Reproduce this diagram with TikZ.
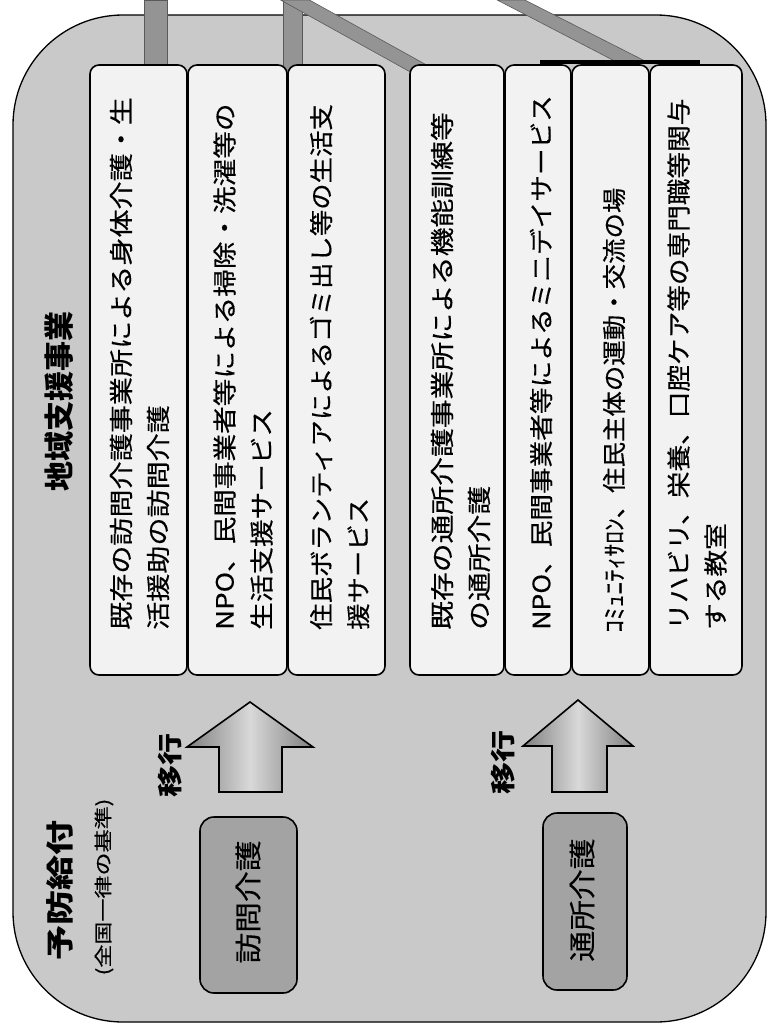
\documentclass[tikz,border=0pt]{standalone}
\usepackage{fontspec}
\usepackage{graphicx}
\newfontfamily\jp[FakeBold=0.35]{Noto Sans CJK JP}
\newfontfamily\jpb{Noto Sans CJK JP}
\newcommand\sx[2]{\scalebox{#1}[1]{#2}}
\begin{document}
\begin{tikzpicture}[x=1pt,y=-1pt,
  outerbox/.style={draw=black, line width=1.3pt, fill=black!21, rounded corners=110pt, inner sep=0},
  ibox/.style={draw=black, line width=1.6pt, fill=black!5, rounded corners=9pt, inner sep=0},
  sbox/.style={draw=black, line width=1.6pt, fill=black!36, rounded corners=14pt, inner sep=0},
  btxt/.style={rotate=90, anchor=west, align=left, inner sep=0, font=\jp\fontsize{24}{37}\selectfont},
  rtxt/.style={rotate=90, inner sep=0},
  band/.style={fill=black!42, draw=black!65, line width=0.6pt},
  bigarrow/.style={draw=black, line width=1.6pt, left color=black!50, right color=black!50, middle color=black!15},
]
\useasboundingbox (0,0) rectangle (769,1028);

% outer frame
\node[outerbox, minimum width=753pt, minimum height=1007pt] (outer) at (389.5,518.5) {};

% connector bands coming from above
\fill[band] (144,0) rectangle (167,72);
\fill[band] (283,0) rectangle (302,72);
\filldraw[band] (280.6,0) -- (309.4,0) -- (430,66.9) -- (430,82.9) -- cycle;
\filldraw[band] (497.2,0) -- (524.8,0) -- (645,61) -- (630,69) -- cycle;

% inner boxes
\node[ibox, minimum width=97pt, minimum height=610pt] (b1) at (138.5,370) {};
\node[ibox, minimum width=99pt, minimum height=610pt] (b2) at (237.5,370) {};
\node[ibox, minimum width=97pt, minimum height=610pt] (b3) at (336.5,370) {};
\node[ibox, minimum width=94pt, minimum height=610pt] (b4) at (457,370) {};
\node[ibox, minimum width=66pt, minimum height=610pt] (b5) at (538,370) {};
\node[ibox, minimum width=77pt, minimum height=610pt] (b6) at (610.5,370) {};
\node[ibox, minimum width=92pt, minimum height=610pt] (b7) at (696,370) {};

% bracket bar over boxes 5-7
\coordinate (barL) at (540,62);
\coordinate (barR) at (700,62);
\draw[line width=4pt] (barL) -- (barR);

% box texts
\node[btxt] (t1) at (139.5,630) {\sx{1.17}{既存の訪問介護事業所による身体介護・生}\\\sx{1.17}{活援助の訪問介護}};
\node[btxt] (t2) at (243,630) {\sx{1.15}{NPO、民間事業者等による掃除・洗濯等の}\\\sx{1.15}{生活支援サービス}};
\node[btxt] (t3) at (339.5,630) {\sx{1.10}{住民ボランティアによるゴミ出し等の生活支}\\\sx{1.10}{援サービス}};
\node[btxt] (t4) at (460.5,630) {\sx{1.20}{既存の通所介護事業所による機能訓練等}\\\sx{1.20}{の通所介護}};
\node[btxt] (t5) at (541,630) {\sx{1.11}{NPO、民間事業者等によるミニデイサービス}};
\node[btxt] (t6) at (614,633) {\sx{1.06}{ｺﾐｭﾆﾃｨｻﾛﾝ、住民主体の運動・交流の場}};
\node[btxt] (t7) at (697,630) {\sx{1.11}{リハビリ、栄養、口腔ケア等の専門職等関与}\\\sx{1.11}{する教室}};

% titles
\node[rtxt, font=\jpb\bfseries\fontsize{30}{30}\selectfont] (title) at (59,401) {地域支援事業};
\node[rtxt, font=\jpb\bfseries\fontsize{28}{28}\selectfont] (yobo) at (60,890) {\sx{1.25}{予防給付}};
\node[rtxt, font=\jp\fontsize{18}{18}\selectfont] (kijun) at (104,887) {\sx{1.28}{(全国一律の基準)}};

% small boxes
\node[sbox, minimum width=97pt, minimum height=176pt] (houmon) at (248.5,905) {};
\node[rtxt, font=\jp\fontsize{27}{27}\selectfont] (houmonT) at (248,902) {\sx{1.14}{訪問介護}};
\node[sbox, minimum width=84pt, minimum height=177pt] (tsusho) at (585,901.5) {};
\node[rtxt, font=\jp\fontsize{27}{27}\selectfont] (tsushoT) at (582,900) {\sx{1.14}{通所介護}};

% block arrows
\filldraw[bigarrow] (250,702) -- (313,747) -- (282,747) -- (282,792) -- (219,792) -- (219,747) -- (187,747) -- cycle;
\filldraw[bigarrow] (578,700) -- (633,746) -- (607,746) -- (607,792) -- (552,792) -- (552,746) -- (523,746) -- cycle;

% 移行 labels
\node[rtxt, font=\jpb\bfseries\fontsize{25}{25}\selectfont] (ikou1) at (170,765) {\sx{1.28}{移行}};
\node[rtxt, font=\jpb\bfseries\fontsize{25}{25}\selectfont] (ikou2) at (503,762) {\sx{1.28}{移行}};
\end{tikzpicture}
\end{document}
